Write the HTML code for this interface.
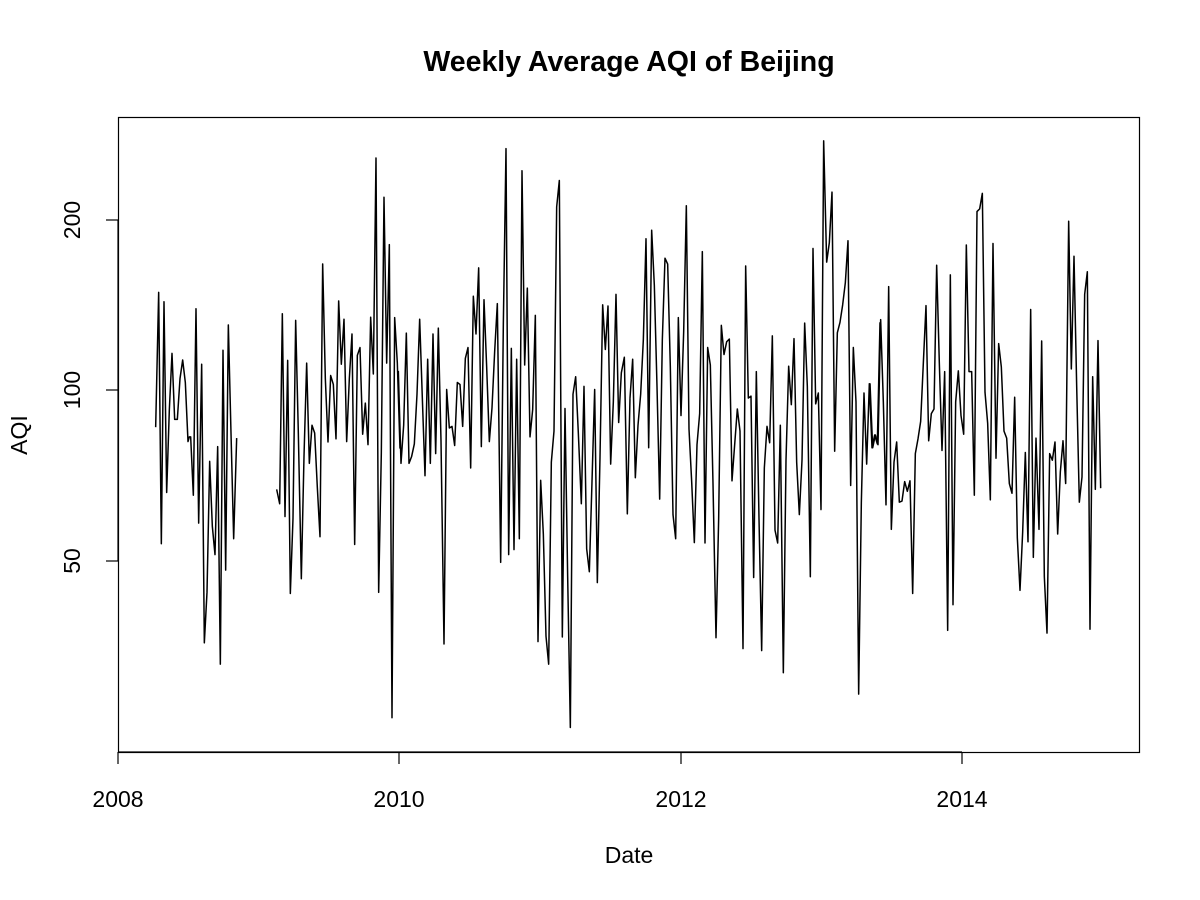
<!DOCTYPE html>
<html><head><meta charset="utf-8"><style>html,body{margin:0;padding:0;background:#fff}svg{display:block}</style></head>
<body>
<svg width="1200" height="900" viewBox="0 0 1200 900" xmlns="http://www.w3.org/2000/svg" font-family="Liberation Sans, sans-serif">
<rect width="1200" height="900" fill="#fff"/>
<text x="629" y="71" font-size="28.5" font-weight="bold" text-anchor="middle">Weekly Average AQI of Beijing</text>
<rect x="118.5" y="117.5" width="1021" height="635" fill="none" stroke="#000" stroke-width="1.2"/>
<g stroke="#000" stroke-width="1.2">
<line x1="118" y1="752" x2="962" y2="752"/>
<line x1="118" y1="752" x2="118" y2="764"/><line x1="399" y1="752" x2="399" y2="764"/>
<line x1="681" y1="752" x2="681" y2="764"/><line x1="962" y1="752" x2="962" y2="764"/>
<line x1="118" y1="220" x2="118" y2="561"/>
<line x1="106" y1="220" x2="118" y2="220"/><line x1="106" y1="390" x2="118" y2="390"/><line x1="106" y1="561" x2="118" y2="561"/>
</g>
<g font-size="23" text-anchor="middle">
<text x="118" y="807">2008</text><text x="399" y="807">2010</text><text x="681" y="807">2012</text><text x="962" y="807">2014</text>
<text transform="translate(80,220) rotate(-90)">200</text>
<text transform="translate(80,390) rotate(-90)">100</text>
<text transform="translate(80,561) rotate(-90)">50</text>
<text x="629" y="863">Date</text>
<text transform="translate(27,435) rotate(-90)">AQI</text>
</g>
<g fill="none" stroke="#000" stroke-width="1.5" stroke-linejoin="round">
<g transform="translate(140,130) scale(0.33333,0.3885)">
<polyline vector-effect="non-scaling-stroke" points="47,765 56,418 64,1065 72,442 80,933 88,720 96,575 104,745 112,745 120,640 128,592 136,650 144,802 148,790 152,790 160,940 168,460 176,1012 185,603 193,1320 201,1190 209,853 217,1020 225,1093 233,815 241,1375 249,567 257,1133 265,502 273,780 281,1052 290,793"/>
<polyline vector-effect="non-scaling-stroke" points="410,925 419,962 427,473 435,995 443,593 451,1193 459,1000 467,490 475,780 484,1155 492,840 500,600 508,858 516,760 524,780 532,920 540,1047 548,345 556,640 564,803 572,632 580,655 588,795 596,440 604,603 612,487 620,802 628,640 636,525 644,1067 652,580 660,560 668,783 676,703 684,810 692,482 700,628 708,72 716,1190 724,830 732,173 740,600 748,295 756,1513 764,483 772,600 780,820"/>
</g>
<g transform="translate(390,130) scale(0.33333,0.3885)">
<polyline vector-effect="non-scaling-stroke" points="25,620 33,858 41,760 49,523 57,858 65,840 73,808 81,680 89,487 97,690 105,890 113,590 121,858 129,525 137,833 145,510 153,800 162,1323 170,668 178,767 186,763 194,812 202,650 210,655 218,763 226,588 234,560 242,870 250,428 258,525 266,355 274,815 282,437 290,610 298,802 306,715 314,570 322,447 332,1113 340,500 348,48 356,1093 364,562 372,1080 380,590 388,1052 396,105 404,605 412,407 420,790 428,720 436,477 444,1317 452,902 460,1040 468,1303 476,1375 484,855 492,775 500,198 508,130 517,1305 525,717 533,1150 541,1538 549,680 557,635 565,780 574,962 582,660 590,1078 598,1137 606,905 614,668 622,1165 630,843 638,450 646,565 654,453 662,860 670,700 678,423 686,753 694,625 703,585 712,988 720,690"/>
</g>
<g transform="translate(630,130) scale(0.33333,0.3885)">
<polyline vector-effect="non-scaling-stroke" points="0,690 8,590 16,895 24,760 32,680 40,540 48,280 56,818 65,258 73,400 81,660 89,950 97,540 105,330 113,345 121,610 129,990 137,1052 145,483 153,735 161,520 169,195 177,770 185,905 193,1062 201,810 209,730 217,313 225,1063 233,560 241,605 249,910 258,1307 266,1000 274,503 282,578 290,545 298,538 306,903 314,810 322,718 330,775 339,1335 347,350 355,690 363,685 371,1152 379,622 387,1000 395,1340 403,870 411,763 419,805 427,530 435,1030 443,1063 451,760 460,1397 468,850 476,608 484,707 492,537 500,855 508,990 516,850 524,497 532,660 541,1150 549,305 557,705 565,677 573,977 581,28 590,340 598,290 606,160 614,827 622,522 630,495 638,450 646,393 654,285 662,915 670,560 678,700 686,1452 694,960 702,677 710,860 718,653 726,818 734,785 742,808 750,495"/>
</g>
<g transform="translate(870,130) scale(0.33333,0.3885)">
<polyline vector-effect="non-scaling-stroke" points="0,652 8,818 16,785 24,810 32,488 40,700 48,965 56,403 64,1028 72,855 80,803 88,958 96,955 104,905 112,930 120,903 128,1193 136,833 144,795 152,750 160,600 168,452 176,800 184,730 192,718 200,348 208,600 216,825 224,622 233,1288 241,373 249,1222 257,700 265,620 273,735 281,783 289,296 297,622 305,622 313,940 321,210 329,203 337,163 345,675 353,755 361,952 369,292 378,845 386,550 394,610 402,775 410,793 418,910 426,935 434,688 442,1050 450,1185 458,1035 466,830 474,1060 482,462 490,1100 498,793 507,1028 515,543 523,1150 531,1295 539,833 547,850 555,803 563,1040 571,880 579,800 587,910 596,235 604,615 612,325 620,658 628,958 636,893 644,423 652,365 660,1285 668,635 676,925 684,542 692,922"/>
</g>
</g>
</svg>
</body></html>
